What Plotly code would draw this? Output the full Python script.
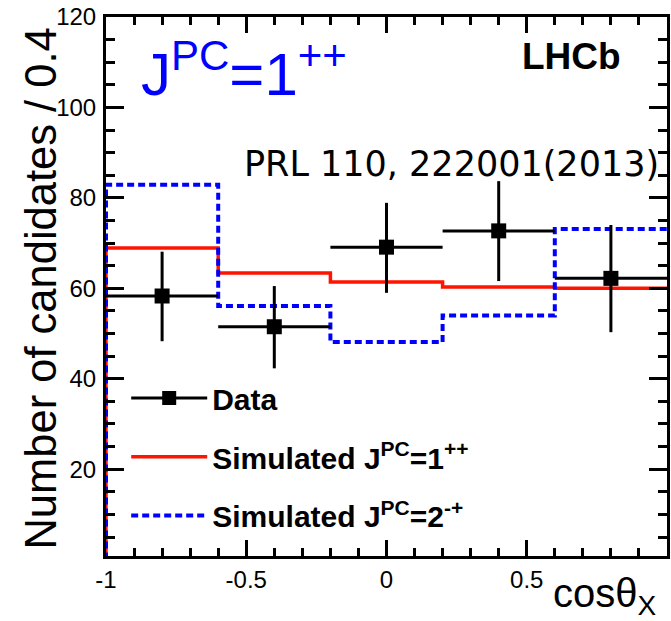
import plotly.graph_objects as go

# ---- data ----
bin_edges = [-1.0, -0.6, -0.2, 0.2, 0.6, 1.0]
bin_centers = [-0.8, -0.4, 0.0, 0.4, 0.8]
bin_halfwidth = 0.2
data_counts = [58.3, 51.5, 69.1, 72.7, 62.2]
data_err_up = [9.8, 9.0, 9.8, 11.0, 11.8]
data_err_down = [10.0, 9.2, 10.1, 11.1, 11.9]
sim_1pp = [68.9, 63.4, 61.4, 60.3, 60.0]
sim_2mp = [82.9, 56.1, 48.1, 54.0, 73.1]
hist_base = 0.0

x_ticks = [-1, -0.5, 0, 0.5, 1]
x_ticklabels = ["-1", "-0.5", "0", "0.5", "1"]
y_ticks = [20, 40, 60, 80, 100, 120]

FONT = "Liberation Sans"

def step_xy(edges, vals, base):
    xs = [edges[0]] + list(edges)
    ys = [base] + list(vals) + [vals[-1]]
    return xs, ys

fig = go.Figure()

xr, yr = step_xy(bin_edges, sim_1pp, hist_base)
fig.add_trace(go.Scatter(x=xr, y=yr, mode="lines", line_shape="hv",
                         line=dict(color="#ff1400", width=3.5),
                         name="Simulated J<sup>PC</sup>=1<sup>++</sup>",
                         legend="legend2", showlegend=True))
xb, yb = step_xy(bin_edges, sim_2mp, hist_base)
fig.add_trace(go.Scatter(x=xb, y=yb, mode="lines", line_shape="hv",
                         line=dict(color="#0000ff", width=4, dash="7px,4px"),
                         name="Simulated J<sup>PC</sup>=2<sup>-+</sup>",
                         legend="legend3", showlegend=True))
fig.add_trace(go.Scatter(x=bin_centers, y=data_counts, mode="markers",
                         marker=dict(symbol="square", size=15, color="black"),
                         error_y=dict(type="data", array=data_err_up, arrayminus=data_err_down,
                                      symmetric=False, color="black", thickness=3, width=0),
                         error_x=dict(type="constant", value=bin_halfwidth, color="black",
                                      thickness=3, width=0),
                         showlegend=False, name="Data"))
# legend entry for data
fig.add_trace(go.Scatter(x=[None], y=[None], mode="lines+markers",
                         marker=dict(symbol="square", size=14, color="black"),
                         line=dict(color="black", width=3),
                         name="Data", legend="legend", showlegend=True))

leg_common = dict(font=dict(family=FONT, size=30, color="black", weight="bold"),
                  bgcolor="rgba(0,0,0,0)", itemwidth=76, xanchor="left", yanchor="middle",
                  x=0.036)
fig.update_layout(
    width=671, height=621,
    margin=dict(l=106, r=4, t=17, b=65, autoexpand=False),
    plot_bgcolor="white", paper_bgcolor="white",
    legend=dict(**leg_common, y=0.293),
    legend2=dict(**leg_common, y=0.184),
    legend3=dict(**leg_common, y=0.075),
    xaxis=dict(range=[-1, 1], tickvals=x_ticks, ticktext=x_ticklabels, automargin=False,
               ticks="inside", ticklen=16, tickwidth=3, tickcolor="black",
               showline=True, linewidth=3, linecolor="black", mirror="allticks",
               showgrid=False, zeroline=False,
               tickfont=dict(family=FONT, size=24, color="black"),
               minor=dict(dtick=0.1, ticks="inside", ticklen=8, tickwidth=3,
                          tickcolor="black", showgrid=False)),
    yaxis=dict(range=[0.8, 120], tickvals=y_ticks, automargin=False,
               ticks="inside", ticklen=18, tickwidth=3, tickcolor="black",
               showline=True, linewidth=3, linecolor="black", mirror="allticks",
               showgrid=False, zeroline=False, ticklabelstandoff=2,
               tickfont=dict(family=FONT, size=24, color="black"),
               minor=dict(dtick=5, ticks="inside", ticklen=9, tickwidth=3,
                          tickcolor="black", showgrid=False)),
    annotations=[
        dict(text="Number of candidates / 0.4", xref="paper", yref="paper",
             x=-0.115, y=0.497, xanchor="center", yanchor="middle", textangle=-90,
             showarrow=False, font=dict(family=FONT, size=43.5, color="black")),
        dict(text="J<sup>PC</sup>=1<sup>++</sup>", xref="paper", yref="paper",
             x=0.058, y=0.901, xanchor="left", yanchor="middle", showarrow=False,
             font=dict(family=FONT, size=60, color="#0000ff")),
        dict(text="<b>LHCb</b>", xref="paper", yref="paper",
             x=0.922, y=0.926, xanchor="right", yanchor="middle", showarrow=False,
             font=dict(family=FONT, size=37, color="black")),
        dict(text="PRL 110, 222001(2013)", xref="paper", yref="paper",
             x=0.989, y=0.728, xanchor="right", yanchor="middle", showarrow=False,
             font=dict(family="DejaVu Sans", size=35, color="black")),
        dict(text="cosθ<sub>X</sub>", xref="paper", yref="paper",
             x=0.985, y=-0.075, xanchor="right", yanchor="middle", showarrow=False,
             font=dict(family=FONT, size=40, color="black")),
    ],
)

fig.write_html("out.html", config={"displayModeBar": False},
               post_script="document.body.style.margin='0';document.body.style.overflow='hidden';")
